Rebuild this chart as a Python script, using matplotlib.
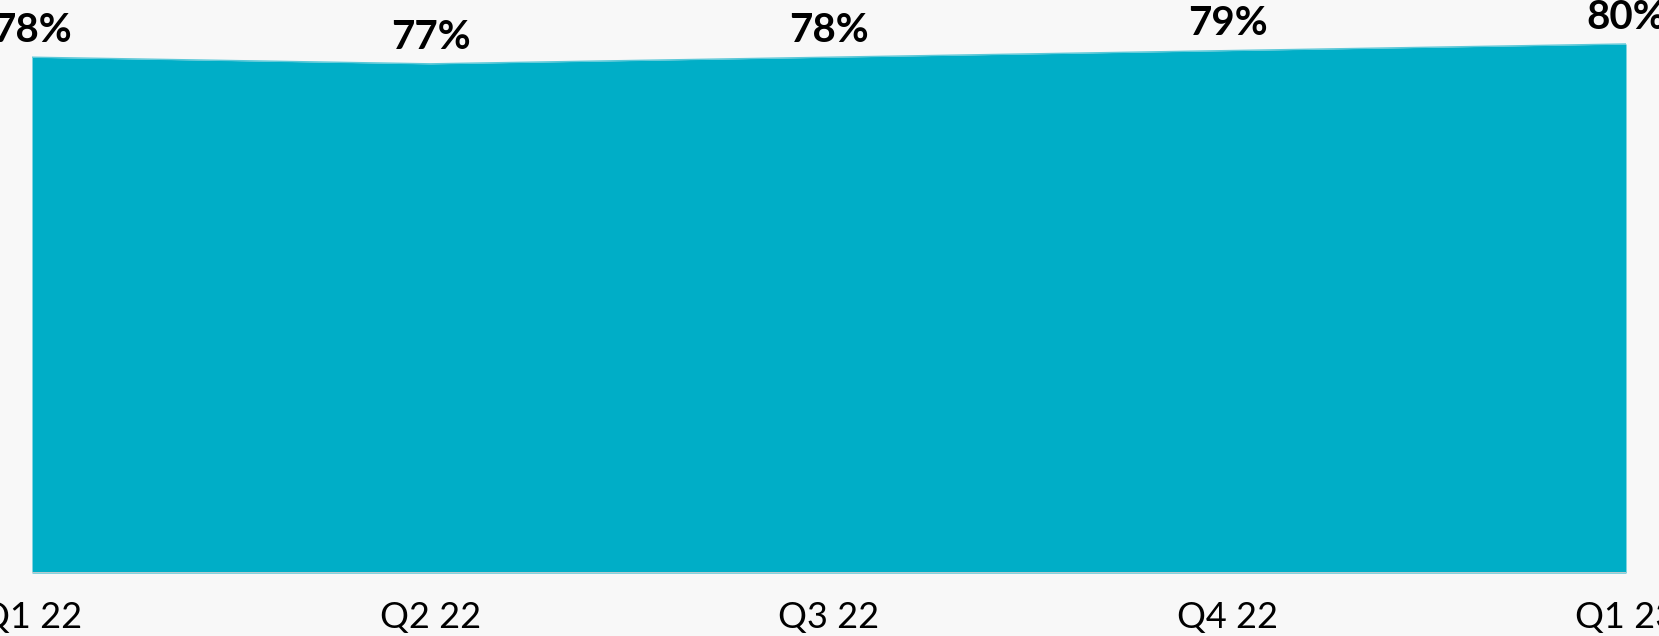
import matplotlib.pyplot as plt

quarters = ["Q1 22", "Q2 22", "Q3 22", "Q4 22", "Q1 23"]
share = [78, 77, 78, 79, 80]

BG = "#F8F8F8"
TEAL = "#00AEC7"

plt.rcParams["font.family"] = ["Lato", "DejaVu Sans"]

fig = plt.figure(figsize=(16.59, 6.36), dpi=100, facecolor=BG)
ax = fig.add_axes([0.0193, 0.0991, 0.9608, 0.9009])
ax.set_facecolor(BG)

x = list(range(len(quarters)))
ax.fill_between(x, share, 0, color=TEAL, linewidth=0)
ax.plot(x, share, color="#5CC8D8", linewidth=1)
ax.axhline(0, color="#CFCFCF", linewidth=2, zorder=3)

# value labels sit a fixed distance above each point
for xi, v in zip(x, share):
    ax.annotate(f"{v}%", (xi, v), xytext=(0, 11), textcoords="offset points",
                ha="center", va="baseline", fontsize=29, fontweight="bold",
                color="black", annotation_clip=False)

ax.set_xlim(0, len(quarters) - 1)
ax.set_ylim(0, 86.65)
ax.set_xticks(x)
ax.set_xticklabels(quarters, fontsize=26)
ax.tick_params(axis="x", length=0, pad=20)
ax.set_yticks([])
for s in ax.spines.values():
    s.set_visible(False)

fig.savefig("out.png", dpi=100, facecolor=BG)
